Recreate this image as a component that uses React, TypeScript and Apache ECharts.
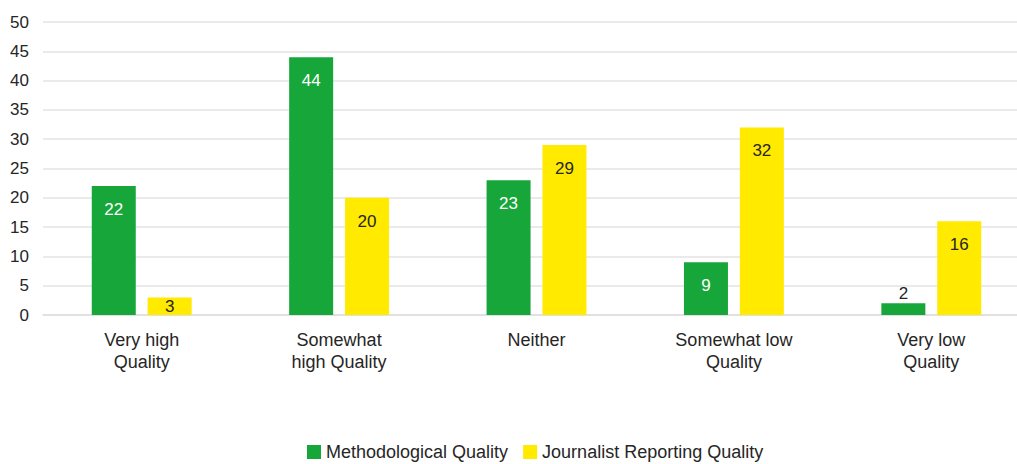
import React, { useEffect, useRef } from "react";
import * as echarts from "echarts";

const categories = ["Very high\nQuality", "Somewhat\nhigh Quality", "Neither", "Somewhat low\nQuality", "Very low\nQuality"];
const methodological = [22, 44, 23, 9, 2];
const journalist = [3, 20, 29, 32, 16];
const seriesNames = ["Methodological Quality", "Journalist Reporting Quality"];
const yTicks = { min: 0, max: 50, interval: 5 };

const FONT = "'Liberation Sans', Arial, sans-serif";
const GREEN = "#17a63a";
const YELLOW = "#ffea00";
const TEXT = "#262626";

function labelFor(v: number, color: string) {
  if (v <= 2) return { value: v, label: { position: "top", distance: 1, color: TEXT } };
  if (v <= 4) return { value: v, label: { position: "inside", color: TEXT } };
  return { value: v, label: { color } };
}

export default function App() {
  const ref = useRef<HTMLDivElement>(null);
  useEffect(() => {
    if (!ref.current) return;
    const chart = echarts.init(ref.current, undefined, { renderer: "svg" });
    chart.setOption({
      animation: false,
      textStyle: { fontFamily: FONT },
      grid: { left: 43, right: 0, top: 22, bottom: 149, containLabel: false },
      legend: {
        bottom: -2,
        left: 302,
        itemWidth: 14,
        itemHeight: 14,
        itemGap: 15,
        icon: "rect",
        textStyle: { fontSize: 18, color: TEXT, fontFamily: FONT },
        data: seriesNames,
      },
      xAxis: {
        type: "category",
        data: categories,
        axisLine: { show: true, lineStyle: { color: "#dedede", width: 1.5 } },
        axisTick: { show: false },
        axisLabel: { fontSize: 18, color: TEXT, lineHeight: 22, margin: 14, fontFamily: FONT },
      },
      yAxis: {
        type: "value",
        min: yTicks.min,
        max: yTicks.max,
        interval: yTicks.interval,
        axisLine: { show: false },
        axisTick: { show: false },
        splitLine: { lineStyle: { color: "#e3e3e3", width: 1.5 } },
        axisLabel: { fontSize: 17, color: TEXT, margin: 14, fontFamily: FONT },
      },
      series: [
        {
          name: seriesNames[0],
          type: "bar",
          barWidth: 44,
          barGap: "27%",
          itemStyle: { color: GREEN },
          label: { show: true, position: "insideTop", distance: 15, fontSize: 17, color: "#fff", fontFamily: FONT },
          data: methodological.map((v) => labelFor(v, "#fff")),
        },
        {
          name: seriesNames[1],
          type: "bar",
          barWidth: 44,
          itemStyle: { color: YELLOW },
          label: { show: true, position: "insideTop", distance: 15, fontSize: 17, color: TEXT, fontFamily: FONT },
          data: journalist.map((v) => labelFor(v, TEXT)),
        },
      ],
    });
    return () => chart.dispose();
  }, []);
  return (
    <div style={{ position: "fixed", left: 0, top: 0, width: 1017, height: 464, overflow: "hidden", background: "#fff" }}>
      <div ref={ref} style={{ width: 1030, height: 464 }} />
    </div>
  );
}
